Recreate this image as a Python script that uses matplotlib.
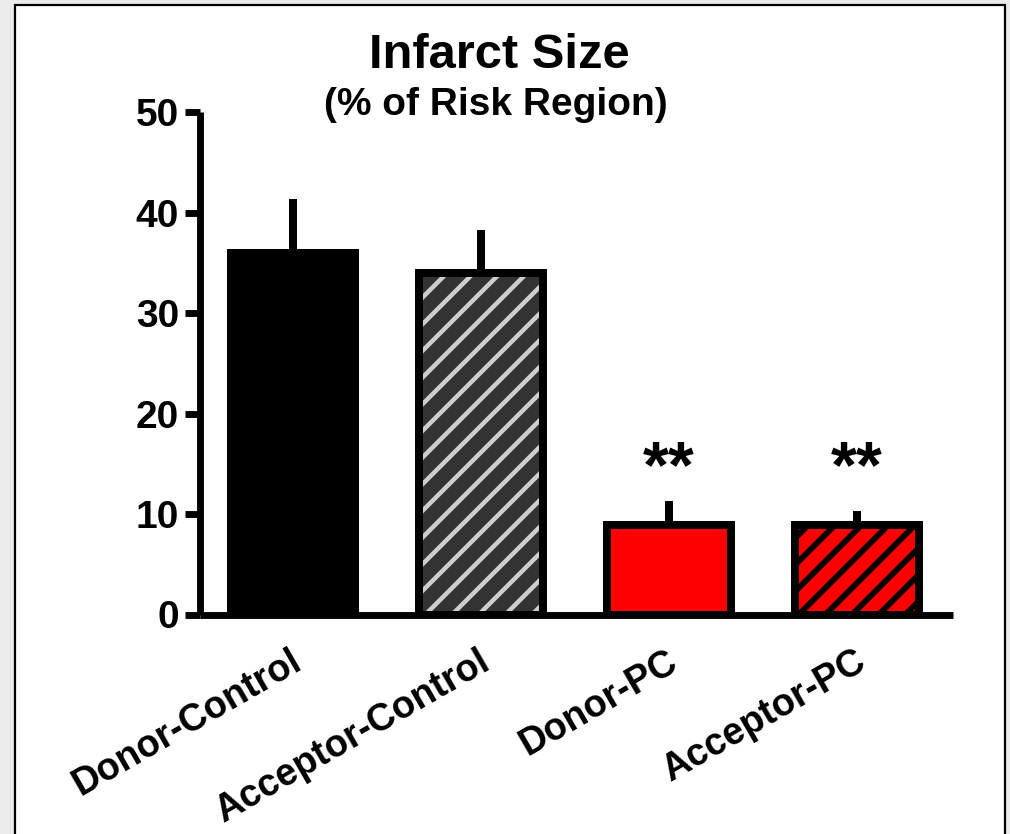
import matplotlib
matplotlib.use("Agg")
import matplotlib.pyplot as plt
from matplotlib.patches import Rectangle
from matplotlib.transforms import ScaledTranslation

groups = ['Donor-Control', 'Acceptor-Control', 'Donor-PC', 'Acceptor-PC']
infarct = [36.0, 34.0, 8.9, 8.9]
sem = [5.4, 4.3, 2.4, 1.4]
stars = ['', '', '**', '**']

fills = ['black', '#333333', '#ff0000', '#ff0000']
hatch_cols = ['black', '#cfcfcf', '#ff0000', 'black']
hatches = ['', '//', '', '//']

plt.rcParams['font.family'] = 'Liberation Sans'
plt.rcParams['font.weight'] = 'bold'

DPI = 160
fig = plt.figure(figsize=(1010 / DPI, 834 / DPI), dpi=DPI, facecolor='#ebebeb')
fig.patches.append(Rectangle((15 / 1010, -0.1), (1005 - 15) / 1010, 1.1 - 5 / 834,
                             transform=fig.transFigure, facecolor='white',
                             edgecolor='black', linewidth=1.0, zorder=-5))

ax = fig.add_axes([199.5 / 1010, 1 - 614.5 / 834, (953 - 199.5) / 1010, (614.5 - 112.5) / 834])
ax.set_facecolor('none')

x = range(len(groups))
w = 0.66
for i in x:
    b = ax.bar(i, infarct[i], width=w, color=fills[i], edgecolor=hatch_cols[i],
               hatch=hatches[i], linewidth=0, zorder=2)
    for p in b:
        if hasattr(p, 'set_hatch_linewidth'):
            p.set_hatch_linewidth(2.0 if i == 1 else 2.6)
ax.errorbar(list(x), infarct, yerr=[[0] * 4, sem], fmt='none', ecolor='black',
            elinewidth=3.6, capsize=0, zorder=1)
ax.bar(list(x), infarct, width=w, facecolor='none', edgecolor='black', linewidth=3.6, zorder=3)

for i in x:
    if stars[i]:
        ax.text(i, infarct[i] + 3.8, stars[i], ha='center', va='baseline',
                fontsize=30, fontweight='bold')

ax.set_xlim(-0.495, 3.513)
ax.set_ylim(0, 50)
ax.set_yticks([0, 10, 20, 30, 40, 50])
ax.set_xticks(list(x))
ax.set_xticklabels(groups, rotation=30, ha='right', va='center', rotation_mode='anchor')
for s in ['top', 'right']:
    ax.spines[s].set_visible(False)
for s in ['left', 'bottom']:
    ax.spines[s].set_linewidth(3.1)
    ax.spines[s].set_capstyle('butt')
ax.tick_params(axis='y', direction='out', length=6.75, width=3.1, pad=2.5, labelsize=17.5)
ax.tick_params(axis='x', length=0, pad=20, labelsize=17)
shift = ScaledTranslation(6 / DPI, 0, fig.dpi_scale_trans)
for lab in ax.get_xticklabels():
    lab.set_transform(lab.get_transform() + shift)

fig.text(499 / 1010, 1 - 68 / 834, 'Infarct Size', ha='center', va='baseline',
         fontsize=22, fontweight='bold')
fig.text(496 / 1010, 1 - 115 / 834, '(% of Risk Region)', ha='center', va='baseline',
         fontsize=17.5, fontweight='bold')

fig.savefig('out.png', dpi=DPI, facecolor=fig.get_facecolor())
